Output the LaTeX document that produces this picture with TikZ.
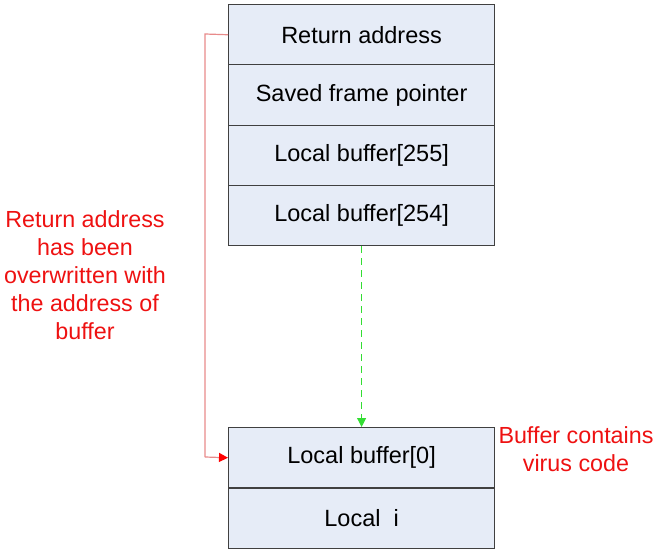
\documentclass[tikz,border=0pt]{standalone}
\usepackage{fontspec}
\setmainfont{Liberation Sans}
\usetikzlibrary{arrows.meta}
\definecolor{boxfill}{HTML}{E6ECF7}
\definecolor{boxdraw}{HTML}{404040}
\definecolor{redline}{HTML}{E88A8A}
\definecolor{redtext}{HTML}{EE1111}
\definecolor{greenline}{HTML}{33DD33}
\tikzset{
  cell/.style={draw=boxdraw, fill=boxfill, line width=1.2pt, minimum width=266pt, minimum height=60.3pt, inner sep=0pt, anchor=north west, font=\fontsize{23.5}{28}\selectfont},
  note/.style={text=redtext, align=center, font=\fontsize{23.3}{28}\selectfont, inner sep=0pt}
}
\begin{document}
\begin{tikzpicture}[x=1pt,y=-1pt]
\useasboundingbox (0,0) rectangle (665,551);
\node[cell] (ra) at (228,4) {Return address};
\node[cell] (sfp) at (228,64.3) {Saved frame pointer};
\node[cell] (b255) at (228,124.6) {Local buffer[255]};
\node[cell] (b254) at (228,184.9) {Local buffer[254]};
\node[cell] (b0) at (228,427) {Local buffer[0]};
\node[cell] (li) at (228,487.3) {Local\ \ i};
\draw[greenline, dashed, dash pattern=on 7pt off 5pt, line width=1pt, -{Triangle[length=9pt,width=9pt]}] (b254.south) -- (b0.north);
\coordinate (c1) at (205,34);
\coordinate (c2) at (205,457);
\draw[redline, line width=1.2pt] (ra.west) -- (c1) -- (c2);
\draw[redline, line width=1.2pt, -{Triangle[length=9pt,width=9pt,color=red]}] (c2) -- (b0.west);
\node[note] (n1) at (85,275) {Return address\\has been\\overwritten with\\the address of\\buffer};
\node[note, anchor=north] (n2) at (576,426) {Buffer contains\\virus code};
\end{tikzpicture}
\end{document}
